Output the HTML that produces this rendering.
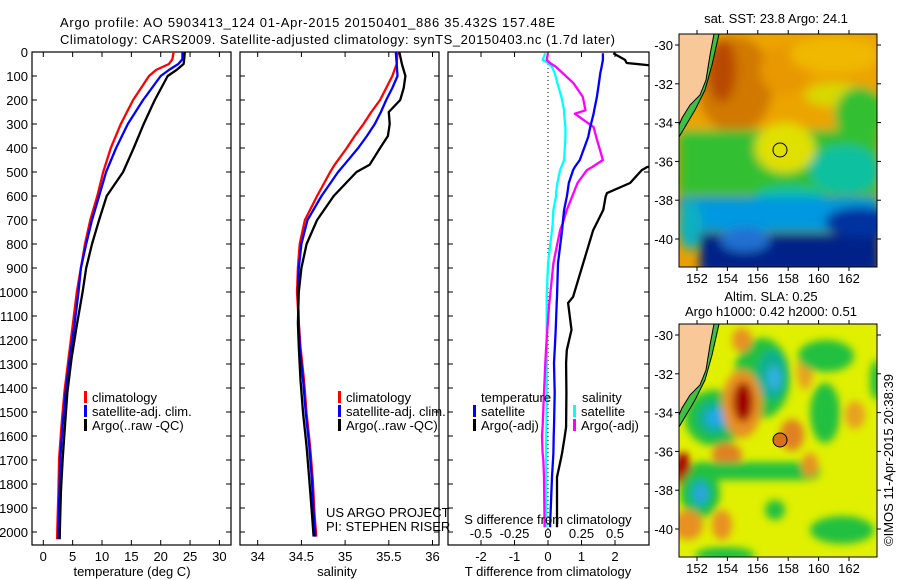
<!DOCTYPE html>
<html><head><meta charset="utf-8"><style>
html,body{margin:0;padding:0;background:#fff;}
svg{display:block;font-family:"Liberation Sans",sans-serif;}
text{font-size:13px;fill:#000;}
</style></head><body>
<svg id="fig" width="900" height="580" viewBox="0 0 900 580">
<defs>
<clipPath id="c1"><rect x="32" y="52" width="199" height="493"/></clipPath>
<clipPath id="c2"><rect x="240" y="52" width="199" height="493"/></clipPath>
<clipPath id="c3"><rect x="448" y="52" width="201" height="493"/></clipPath>
<clipPath id="m1"><rect x="679" y="34" width="198" height="233"/></clipPath>
<clipPath id="m2"><rect x="679" y="324" width="198" height="233"/></clipPath>
<filter id="bl" x="-20%" y="-20%" width="140%" height="140%"><feGaussianBlur stdDeviation="5"/></filter>
<filter id="bl2" x="-20%" y="-20%" width="140%" height="140%"><feGaussianBlur stdDeviation="4"/></filter>
</defs>
<text x="60" y="27" textLength="495">Argo profile: AO 5903413_124 01-Apr-2015 20150401_886 35.432S 157.48E</text>
<text x="60" y="44" textLength="555">Climatology: CARS2009. Satellite-adjusted climatology: synTS_20150403.nc (1.7d later)</text>

<!-- Map 1 SST -->
<g>
<g clip-path="url(#m1)">
<rect x="679" y="34" width="198" height="233" fill="#e8a000"/>
<g filter="url(#bl)">
<rect x="679" y="34" width="198" height="100" fill="#eca400"/>
<ellipse cx="735" cy="85" rx="38" ry="48" fill="#d07800"/>
<ellipse cx="722" cy="70" rx="14" ry="32" fill="#b84800"/>
<ellipse cx="785" cy="70" rx="25" ry="25" fill="#e89800"/>
<ellipse cx="835" cy="55" rx="45" ry="18" fill="#f0b800"/>
<ellipse cx="835" cy="95" rx="30" ry="12" fill="#d8d800"/>
<rect x="679" y="130" width="200" height="65" fill="#30c030"/>
<ellipse cx="785" cy="148" rx="30" ry="25" fill="#e0e000"/>
<ellipse cx="860" cy="115" rx="25" ry="28" fill="#30c030"/>
<ellipse cx="845" cy="170" rx="35" ry="25" fill="#10c0a0"/>
<ellipse cx="790" cy="198" rx="35" ry="12" fill="#10c0a0"/>
<rect x="679" y="197" width="200" height="35" fill="#0098e0"/>
<ellipse cx="690" cy="225" rx="12" ry="25" fill="#10b0c0"/>
<rect x="700" y="234" width="180" height="40" fill="#002088"/>
<ellipse cx="860" cy="222" rx="35" ry="15" fill="#0030a0"/>
<ellipse cx="745" cy="240" rx="25" ry="12" fill="#2070d0"/>
</g>
<polygon points="679,34 714,34 710,55 706,80 700,95 690,105 682,118 679,125" fill="#f8c898"/>
<polygon points="714,34 719,34 712,65 705,90 695,110 679,137 679,125 682,118 690,105 700,95 706,80 710,55" fill="#40c040"/>
<polyline points="714,34 710,55 706,80 700,95 690,105 682,118 679,125" fill="none" stroke="#000" stroke-width="1"/>
<polyline points="719,34 712,65 705,90 695,110 679,137" fill="none" stroke="#000" stroke-width="1"/>
</g>
<rect x="679" y="34" width="198" height="233" fill="none" stroke="#000" stroke-width="1"/>
<circle cx="780" cy="150" r="7" fill="none" stroke="#000" stroke-width="1"/>
<text x="776" y="23" text-anchor="middle" font-size="12">sat. SST: 23.8 Argo: 24.1</text>
</g>

<!-- Map 2 SLA -->
<g>
<g clip-path="url(#m2)">
<rect x="679" y="324" width="198" height="233" fill="#e0f000"/>
<g filter="url(#bl2)">
<ellipse cx="762" cy="378" rx="28" ry="40" fill="#20c040"/>
<ellipse cx="772" cy="375" rx="15" ry="25" fill="#10b090"/>
<ellipse cx="774" cy="378" rx="7" ry="12" fill="#30b0e0"/>
<ellipse cx="715" cy="418" rx="30" ry="28" fill="#20c040"/>
<ellipse cx="715" cy="418" rx="18" ry="17" fill="#10b090"/>
<ellipse cx="716" cy="418" rx="10" ry="9" fill="#20a8e8"/>
<ellipse cx="742" cy="404" rx="20" ry="34" fill="#e89020"/>
<ellipse cx="743" cy="402" rx="10" ry="20" fill="#a00000"/>
<ellipse cx="727" cy="455" rx="15" ry="12" fill="#e08020"/>
<ellipse cx="683" cy="470" rx="8" ry="18" fill="#a80000"/>
<rect x="690" y="462" width="130" height="18" rx="9" fill="#20c040"/>
<ellipse cx="700" cy="493" rx="20" ry="25" fill="#20c040"/>
<ellipse cx="700" cy="493" rx="10" ry="14" fill="#10b0b0"/>
<ellipse cx="701" cy="494" rx="5" ry="8" fill="#30a0e8"/>
<ellipse cx="792" cy="435" rx="12" ry="16" fill="#e08020"/>
<ellipse cx="805" cy="370" rx="8" ry="20" fill="#e8a020"/>
<ellipse cx="826" cy="356" rx="28" ry="16" fill="#20c040"/>
<ellipse cx="825" cy="413" rx="15" ry="30" fill="#20c040"/>
<ellipse cx="855" cy="415" rx="10" ry="14" fill="#e8a020"/>
<ellipse cx="842" cy="530" rx="32" ry="14" fill="#20c040"/>
<ellipse cx="775" cy="510" rx="10" ry="10" fill="#20c040"/>
<ellipse cx="688" cy="525" rx="15" ry="15" fill="#e89020"/>
<ellipse cx="722" cy="525" rx="10" ry="15" fill="#e89020"/>
<ellipse cx="742" cy="340" rx="10" ry="12" fill="#e89020"/>
<ellipse cx="876" cy="380" rx="6" ry="20" fill="#20c040"/>
<ellipse cx="810" cy="465" rx="8" ry="12" fill="#e89020"/>
<ellipse cx="725" cy="555" rx="30" ry="8" fill="#20c040"/>
</g>
<polygon points="679,324 714,324 710,345 706,370 700,385 690,395 682,408 679,415" fill="#f8c898"/>
<polygon points="714,324 719,324 712,355 705,380 695,400 679,427 679,415 682,408 690,395 700,385 706,370 710,345" fill="#40c040"/>
<polyline points="714,324 710,345 706,370 700,385 690,395 682,408 679,415" fill="none" stroke="#000" stroke-width="1"/>
<polyline points="719,324 712,355 705,380 695,400 679,427" fill="none" stroke="#000" stroke-width="1"/>
</g>
<rect x="679" y="324" width="198" height="233" fill="none" stroke="#000" stroke-width="1"/>
<circle cx="780" cy="440" r="7" fill="#d87020" stroke="#000" stroke-width="1"/>
<text x="771" y="301" text-anchor="middle" font-size="12">Altim. SLA: 0.25</text>
<text x="771" y="316" text-anchor="middle" font-size="12">Argo h1000: 0.42 h2000: 0.51</text>
</g>
<text transform="translate(893,460) rotate(-90)" text-anchor="middle" font-size="12">©IMOS 11-Apr-2015 20:38:39</text>
<g id="layer"></g>
</svg>
<script>
// ---------- data ----------
const depthTicks = [0,100,200,300,400,500,600,700,800,900,1000,1100,1200,1300,1400,1500,1600,1700,1800,1900,2000];
const tempTicks = [0,5,10,15,20,25,30];
const salTicks = [34,34.5,35,35.5,36];
const tdiffTicks = [-2,-1,0,1,2];
const sdiffTicks = [-0.5,-0.25,0,0.25,0.5];
const sdiffLabels = ['-0.5','-0.25','0','0.25','0.5'];
const mapLonTicks = [152,154,156,158,160,162];
const mapLatTicks = [-30,-32,-34,-36,-38,-40];

const tDepth = [0,30,50,75,100,200,300,400,500,600,700,800,900,1000,1139,1278,1417,1556,1694,1833,1972,2030];
const tClim  = [22.2,22.0,21.4,19.2,18.0,15.3,13.2,11.5,10.2,9.2,8.0,7.1,6.4,5.7,5.0,4.3,3.6,3.1,2.7,2.57,2.4,2.35];
const tSat   = [23.7,23.7,23.0,21.4,20.0,17.0,14.4,12.4,10.7,9.5,8.3,7.3,6.4,6.0,5.3,4.5,3.8,3.3,2.9,2.75,2.6,2.55];
const tArgo  = [24.1,24.0,23.9,22.7,21.2,19.0,17.1,15.4,13.6,10.8,9.5,8.3,7.3,6.7,5.7,4.8,4.1,3.7,3.3,3.0,2.85,2.8];

const sDepth = [0,50,100,150,200,250,300,350,400,470,500,600,700,800,900,1000,1130,1229,1367,1506,1644,1783,1922,2019];
const sClim  = [35.60,35.59,35.54,35.47,35.40,35.30,35.21,35.11,35.02,34.88,34.83,34.68,34.54,34.48,34.46,34.45,34.47,34.49,34.53,34.56,34.60,34.63,34.65,34.67];
const sSat   = [35.58,35.59,35.60,35.54,35.47,35.41,35.34,35.25,35.15,34.99,34.92,34.73,34.57,34.50,34.47,34.46,34.47,34.48,34.52,34.55,34.59,34.62,34.64,34.66];
const sArgo  = [35.62,35.65,35.69,35.67,35.63,35.50,35.51,35.49,35.40,35.28,35.13,34.87,34.68,34.56,34.50,34.47,34.46,34.47,34.49,34.52,34.56,34.59,34.62,34.64];

const dDepth = [5,33,46,62,88,130,187,243,257,313,354,450,479,492,546,588,603,658,714,742,880,1020,1046,1158,1242,1296,1421,1562,1600,1671,1700,1771,1980];
const dTsat  = [1.64,1.64,1.62,1.60,1.56,1.52,1.46,1.38,1.36,1.26,1.20,0.95,0.80,0.75,0.62,0.58,0.56,0.48,0.44,0.42,0.30,0.27,0.26,0.23,0.2,0.18,0.2,0.18,0.17,0.16,0.15,0.12,0.06];
const dTargo = [1.95,2.3,2.35,3.5,4.5,4.5,4.5,4.5,4.5,4.5,4.5,4.5,2.96,2.8,2.45,1.76,1.72,1.65,1.45,1.35,1.05,0.75,0.6,0.7,0.56,0.54,0.55,0.54,0.5,0.42,0.38,0.27,0.27];
const dSsat  = [-0.02,-0.04,0,0.03,0.05,0.07,0.1,0.12,0.12,0.13,0.13,0.12,0.1,0.09,0.07,0.06,0.06,0.04,0.035,0.03,0,-0.01,-0.01,-0.01,-0.01,-0.01,-0.01,-0.012,-0.013,-0.015,-0.015,-0.015,-0.015];
const dSargo = [0,-0.01,0.015,0.06,0.11,0.19,0.26,0.28,0.2,0.34,0.36,0.41,0.33,0.29,0.22,0.19,0.18,0.14,0.11,0.09,0.04,0.015,0.01,-0.005,-0.015,-0.02,-0.03,-0.04,-0.045,-0.04,-0.035,-0.03,-0.025];

// ---------- scales ----------
const yD = d => 52 + d*0.24;
const xT = t => 43.3 + t*5.87;
const xS = s => 257.7 + (s-34)*87.4;
const xTd = v => 548 + v*33.5;
const xSd = v => 548 + v*134;
const xLon = l => 697 + (l-152)*15.2;
const yLat1 = l => 45 + (-30-l)*19.4;
const yLat2 = l => 335 + (-30-l)*19.4;

const NS='http://www.w3.org/2000/svg';
const layer=document.getElementById('layer');
function mk(tag, attrs, parent){const e=document.createElementNS(NS,tag);for(const k in attrs)e.setAttribute(k,attrs[k]);(parent||layer).appendChild(e);return e;}
function txt(x,y,s,anchor,parent,size){const e=mk('text',{x:x,y:y,'text-anchor':anchor||'start'},parent);if(size)e.setAttribute('font-size',size);e.textContent=s;return e;}

function panel(x0,x1,name){
  const g=mk('g',{});
  
  
  const r=mk('rect',{x:x0,y:52,width:x1-x0,height:493,fill:'none',stroke:'#000','stroke-width':1.2},g);
  
  
  depthTicks.forEach(d=>{
    mk('line',{x1:x0,x2:x0+5,y1:yD(d),y2:yD(d),stroke:'#000'},g);
    mk('line',{x1:x1-5,x2:x1,y1:yD(d),y2:yD(d),stroke:'#000'},g);
  });
  return g;
}
function xticks(g,vals,fx,labels,ylab){
  vals.forEach((v,i)=>{
    const x=fx(v);
    mk('line',{x1:x,x2:x,y1:52,y2:57,stroke:'#000'},g);
    mk('line',{x1:x,x2:x,y1:540,y2:545,stroke:'#000'},g);
    if(labels){const t=txt(x,ylab,labels[i],'middle',g);}
  });
}
function line(g,xs,ds,fx,color,name,clip,w){
  const pts=xs.map((v,i)=>fx(v).toFixed(1)+','+yD(ds[i]).toFixed(1)).join(' ');
  const p=mk('polyline',{points:pts,fill:'none',stroke:color,'stroke-width':w||2.3,'stroke-linejoin':'round','clip-path':'url(#'+clip+')'},g);
  
  
}
function legend(g,x,y,color,label){
  mk('rect',{x:x,y:y-11,width:3,height:12,fill:color},g);
  const t=txt(x+8,y,label,'start',g,12);
  
  
}

depthTicks.forEach(d=>{
  const t=txt(28,yD(d)+5,String(d),'end');
  
  
});

// Panel 1 temperature
const g1=panel(32,231,'temperature-panel');
xticks(g1,tempTicks,xT,tempTicks.map(String),561);
line(g1,tClim,tDepth,xT,'#ff0000','temp-climatology-line','c1');
line(g1,tSat,tDepth,xT,'#0000ff','temp-satellite-line','c1');
line(g1,tArgo,tDepth,xT,'#000000','temp-argo-line','c1');
legend(g1,84,402,'#ff0000','climatology');
legend(g1,84,416,'#0000ff','satellite-adj. clim.');
legend(g1,84,430,'#000000','Argo(..raw -QC)');
const xl1=txt(132,576,'temperature (deg C)','middle',g1);



// Panel 2 salinity
const g2=panel(240,439,'salinity-panel');
xticks(g2,salTicks,xS,salTicks.map(String),561);
line(g2,sClim,sDepth,xS,'#ff0000','sal-climatology-line','c2');
line(g2,sSat,sDepth,xS,'#0000ff','sal-satellite-line','c2');
line(g2,sArgo,sDepth,xS,'#000000','sal-argo-line','c2');
legend(g2,338,402,'#ff0000','climatology');
legend(g2,338,416,'#0000ff','satellite-adj. clim.');
legend(g2,338,430,'#000000','Argo(..raw -QC)');
const xl2=txt(337,576,'salinity','middle',g2);


const c1=txt(326,517,'US ARGO PROJECT','start',g2,12);


const c2=txt(326,531,'PI: STEPHEN RISER','start',g2,12);



// Panel 3 differences
const g3=panel(448,649,'difference-panel');
xticks(g3,tdiffTicks,xTd,tdiffTicks.map(String),561);
sdiffTicks.forEach((v,i)=>{const t=txt(xSd(v),538,sdiffLabels[i],'middle',g3);});
mk('line',{x1:xTd(0),x2:xTd(0),y1:52,y2:545,stroke:'#000','stroke-dasharray':'1,3'},g3);
line(g3,dSsat,dDepth,xSd,'#00ffff','sdiff-satellite-line','c3');
line(g3,dSargo,dDepth,xSd,'#ff00ff','sdiff-argo-line','c3');
line(g3,dTsat,dDepth,xTd,'#0000ff','tdiff-satellite-line','c3');
line(g3,dTargo,dDepth,xTd,'#000000','tdiff-argo-line','c3');
const lt=txt(481,402,'temperature','start',g3,12);


const ls=txt(582,402,'salinity','start',g3,12);


legend(g3,473,416,'#0000ff','satellite');
legend(g3,473,430,'#000000','Argo(-adj)');
legend(g3,573,416,'#00ffff','satellite');
legend(g3,573,430,'#ff00ff','Argo(-adj)');
const sdt=txt(548,524,'S difference from climatology','middle',g3,12);


const tdt=txt(548,576,'T difference from climatology','middle',g3);



function mapAxes(y0,y1,yLat,name){
  const g=mk('g',{});
  
  
  mapLonTicks.forEach(l=>{
    const x=xLon(l);
    mk('line',{x1:x,x2:x,y1:y0-4,y2:y0,stroke:'#000'},g);
    mk('line',{x1:x,x2:x,y1:y1,y2:y1+4,stroke:'#000'},g);
    const t=txt(x,y1+16,String(l),'middle',g,12);
    
    
  });
  mapLatTicks.forEach(l=>{
    const y=yLat(l);
    mk('line',{x1:675,x2:679,y1:y,y2:y,stroke:'#000'},g);
    mk('line',{x1:877,x2:881,y1:y,y2:y,stroke:'#000'},g);
    const t=txt(673,y+5,String(l),'end',g,12);
    
    
  });
}
mapAxes(34,267,yLat1,'sst-map-axes');
mapAxes(324,557,yLat2,'sla-map-axes');
</script>
</body></html>
